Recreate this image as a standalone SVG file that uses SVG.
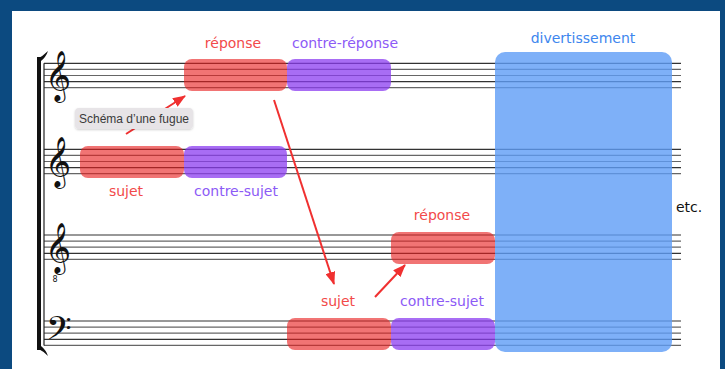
<svg xmlns="http://www.w3.org/2000/svg" width="725" height="369" viewBox="0 0 725 369">
  <style>
    .sl { stroke: #333; stroke-width: 1.2; }
    .sl.g { stroke: #666; }
    .lbl { font-family: "DejaVu Sans", Verdana, sans-serif; font-size: 14px; text-anchor: middle; }
    .red { fill: #f24a4a; }
    .pur { fill: #8c5af6; }
    .blu { fill: #3d86ee; }
    .bx-red { fill: #e81e1e; fill-opacity: 0.62; }
    .bx-pur { fill: #8b3cf0; fill-opacity: 0.75; }
    .bx-blu { fill: #5e9cf6; fill-opacity: 0.8; }
    .clef { font-family: "DejaVu Sans", "Noto Sans", serif; fill: #111; }
    .conn { stroke: #f03030; stroke-width: 2; fill: none; marker-end: url(#head); }
  </style>
  <defs>
    <marker id="head" markerUnits="userSpaceOnUse" markerWidth="14" markerHeight="10" refX="12" refY="5" orient="auto">
      <path d="M0,0 L13,5 L0,10 z" fill="#f03030"/>
    </marker>
    <filter id="shadow" x="-10%" y="-30%" width="120%" height="160%">
      <feDropShadow dx="0" dy="1" stdDeviation="1.2" flood-color="#000" flood-opacity="0.18"/>
    </filter>
    <g id="lines5">
      <line class="sl" x1="44" y1="0" x2="681" y2="0"/>
      <line class="sl g" x1="44" y1="6.1" x2="681" y2="6.1"/>
      <line class="sl g" x1="44" y1="12.2" x2="681" y2="12.2"/>
      <line class="sl" x1="44" y1="18.3" x2="681" y2="18.3"/>
      <line class="sl g" x1="44" y1="24.4" x2="681" y2="24.4"/>
    </g>
  </defs>

  <!-- frame -->
  <rect x="0" y="0" width="725" height="369" fill="#0c4a80"/>
  <rect x="12" y="11" width="708" height="358" fill="#ffffff"/>

  <!-- staves -->
  <g id="staves">
    <use href="#lines5" y="63.3"/>
    <use href="#lines5" y="149.3"/>
    <use href="#lines5" y="235"/>
    <use href="#lines5" y="321"/>
    <!-- system bracket and barline -->
    <line x1="44" y1="63.3" x2="44" y2="345.4" stroke="#222" stroke-width="1.2"/>
    <path d="M37,57 L41,57 L41,350 L37,350 Z" fill="#111"/>
    <path d="M37,59 Q43,56 48,51 Q46,57 41,61 Z" fill="#111"/>
    <path d="M37,348 Q43,351 48,356 Q46,350 41,346 Z" fill="#111"/>
  </g>

  <!-- clefs -->
  <g id="clefs">
    <text class="clef" x="45" y="90" font-size="44">𝄞</text>
    <text class="clef" x="45" y="176" font-size="44">𝄞</text>
    <text class="clef" x="45" y="262" font-size="44">𝄞</text>
    <text class="clef" x="52.5" y="282" font-size="8" font-family="Liberation Serif, serif">8</text>
    <text class="clef" x="46" y="346" font-size="40">𝄢</text>
  </g>

  <!-- voice 1 -->
  <g id="v1-reponse">
    <rect class="bx-red" x="184" y="59" width="103" height="32" rx="8"/>
    <text class="lbl red" x="233" y="48">réponse</text>
  </g>
  <g id="v1-contre-reponse">
    <rect class="bx-pur" x="287" y="59" width="104" height="32" rx="8"/>
    <text class="lbl pur" x="345" y="48">contre-réponse</text>
  </g>

  <!-- voice 2 -->
  <g id="v2-sujet">
    <rect class="bx-red" x="80" y="146" width="104" height="32" rx="8"/>
    <text class="lbl red" x="126" y="196">sujet</text>
  </g>
  <g id="v2-contre-sujet">
    <rect class="bx-pur" x="184" y="146" width="103" height="32" rx="8"/>
    <text class="lbl pur" x="236" y="196">contre-sujet</text>
  </g>

  <!-- voice 3 -->
  <g id="v3-reponse">
    <rect class="bx-red" x="391" y="232" width="104" height="32" rx="8"/>
    <text class="lbl red" x="442" y="220">réponse</text>
  </g>

  <!-- voice 4 -->
  <g id="v4-sujet">
    <rect class="bx-red" x="287" y="318" width="104" height="32" rx="8"/>
    <text class="lbl red" x="338" y="306">sujet</text>
  </g>
  <g id="v4-contre-sujet">
    <rect class="bx-pur" x="391" y="318" width="104" height="32" rx="8"/>
    <text class="lbl pur" x="442" y="306">contre-sujet</text>
  </g>

  <!-- episode -->
  <g id="divertissement">
    <rect class="bx-blu" x="495" y="52" width="177" height="300" rx="10"/>
    <text class="lbl blu" x="583" y="43">divertissement</text>
  </g>

  <g id="etc">
    <text x="676" y="212" font-family="DejaVu Sans, Verdana, sans-serif" font-size="14" fill="#111">etc.</text>
  </g>

  <!-- entries -->
  <g id="connectors">
    <line class="conn" x1="126" y1="134" x2="185" y2="96"/>
    <line class="conn" x1="274" y1="100" x2="334" y2="284"/>
    <line class="conn" x1="375" y1="297" x2="405" y2="265"/>
  </g>

  <!-- tooltip -->
  <g id="tooltip">
    <rect x="75" y="108" width="118" height="21" rx="4" fill="#e7e4e7" filter="url(#shadow)"/>
    <text x="134" y="123" font-family="Liberation Sans, Arial, sans-serif" font-size="12" fill="#3a3a3a" text-anchor="middle">Schéma d’une fugue</text>
  </g>
</svg>
